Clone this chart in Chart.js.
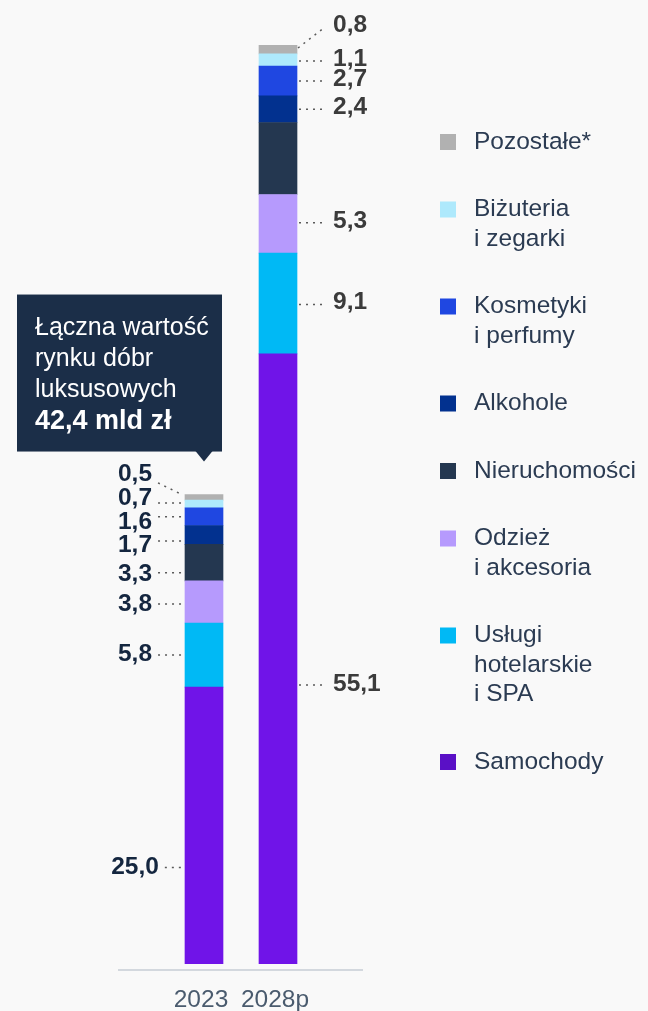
<!DOCTYPE html>
<html lang="pl">
<head>
<meta charset="utf-8">
<script src="https://cdn.jsdelivr.net/npm/chart.js@4.4.1/dist/chart.umd.min.js"></script>
<style>
  html, body { margin: 0; padding: 0; background: #f9f9f9; }
  #wrap { position: relative; width: 648px; height: 1011px; }
</style>
</head>
<body>
<div id="wrap"><canvas id="wykres"></canvas></div>
<script>
// Dane: wartość rynku dóbr luksusowych (mld zł)
const kategorie = ['2023', '2028p'];
const samochody = [25.0, 55.1];
const uslugiHotelarskie = [5.8, 9.1];
const odziez = [3.8, 5.3];
const nieruchomosci = [3.3, 6.5];
const alkohole = [1.7, 2.4];
const kosmetyki = [1.6, 2.7];
const bizuteria = [0.7, 1.1];
const pozostale = [0.5, 0.8];
const maksOsi = 83;
const podpisRamki = ['Łączna wartość', 'rynku dóbr', 'luksusowych'];
const sumaRamki = '42,4 mld zł';

// Kolejność od dołu słupka
const nazwy = [
  ['Samochody'],
  ['Usługi', 'hotelarskie', 'i SPA'],
  ['Odzież', 'i akcesoria'],
  ['Nieruchomości'],
  ['Alkohole'],
  ['Kosmetyki', 'i perfumy'],
  ['Biżuteria', 'i zegarki'],
  ['Pozostałe*']
];
const serie = [samochody, uslugiHotelarskie, odziez, nieruchomosci, alkohole, kosmetyki, bizuteria, pozostale];
const kolory = ['#7014e8', '#00b9f5', '#b69afd', '#243750', '#02318f', '#1f47e1', '#aee9fc', '#b1b1b1'];
const kolorLegendySamochody = '#5a10c6';

// Ręczne przesunięcia (px): linia względem środka segmentu, tekst względem linii
const przesuniecieLinii = [
  [42, 0, 2, 10, 6, 0, -1, -14.4],
  [26, 1, -1, 0, 0, 0, 1, -21.6]
];
const przesuniecieTekstu = [
  [0, -1, 0, 1.5, 4, 6, -5, -9],
  [-1, -2, -2, 0, -2, -2, -2, -2.5]
];
const ukryte = { '1-3': true }; // Nieruchomości 2028p bez etykiety

const FONT = '"Liberation Sans", Arial, Helvetica, sans-serif';
Chart.defaults.font.family = FONT;

function formatuj(v) {
  return v.toFixed(1).replace('.', ',');
}

const dodatki = {
  id: 'dodatki',
  beforeDraw(chart) {
    const ctx = chart.ctx;
    ctx.save();
    ctx.fillStyle = '#f9f9f9';
    ctx.fillRect(0, 0, chart.width, chart.height);
    ctx.restore();
  },
  afterDatasetsDraw(chart) {
    const ctx = chart.ctx;
    const obszar = chart.chartArea;
    const osX = chart.scales.x;
    ctx.save();

    // linia osi
    ctx.strokeStyle = '#d3d8de';
    ctx.lineWidth = 2;
    ctx.beginPath();
    ctx.moveTo(obszar.left - 49, obszar.bottom + 6);
    ctx.lineTo(obszar.right + 48, obszar.bottom + 6);
    ctx.stroke();

    // podpisy lat
    ctx.fillStyle = '#4a5b6e';
    ctx.font = '24.5px ' + FONT;
    ctx.textAlign = 'center';
    ctx.textBaseline = 'alphabetic';
    kategorie.forEach((k, j) => {
      ctx.fillText(k, osX.getPixelForValue(j) - 3, obszar.bottom + 43);
    });

    // etykiety wartości z kropkowanymi liniami
    ctx.font = 'bold 24.5px ' + FONT;
    ctx.lineWidth = 1.5;
    ctx.setLineDash([2, 5]);
    ctx.strokeStyle = '#5a5a5a';
    serie.forEach((dane, i) => {
      const meta = chart.getDatasetMeta(i);
      dane.forEach((v, j) => {
        if (ukryte[j + '-' + i]) return;
        const el = meta.data[j];
        const tekst = formatuj(v);
        const srodek = (el.y + el.base) / 2;
        const yl = srodek + przesuniecieLinii[j][i];
        const yt = yl + przesuniecieTekstu[j][i];
        const ukos = i === serie.length - 1;
        ctx.beginPath();
        if (j === 0) {
          const krawedz = el.x - el.width / 2;
          const xt = krawedz - 50;
          const prawa = xt + ctx.measureText(tekst).width / 2;
          if (ukos) {
            ctx.moveTo(prawa + 6, yl);
            ctx.lineTo(krawedz - 2, el.y + 0.5);
          } else {
            ctx.moveTo(prawa + 6, yl);
            ctx.lineTo(krawedz - 1, yl);
          }
          ctx.stroke();
          ctx.fillStyle = '#14263f';
          ctx.textAlign = 'center';
          ctx.textBaseline = 'middle';
          ctx.fillText(tekst, xt, yt);
        } else {
          const krawedz = el.x + el.width / 2;
          const xt = krawedz + 36;
          if (ukos) {
            ctx.moveTo(krawedz + 1, el.y + 3);
            ctx.lineTo(xt - 9, yl);
          } else {
            ctx.moveTo(krawedz + 2, yl);
            ctx.lineTo(xt - 8, yl);
          }
          ctx.stroke();
          ctx.fillStyle = '#3b3b3b';
          ctx.textAlign = 'left';
          ctx.textBaseline = 'middle';
          ctx.fillText(tekst, xt, yt);
        }
      });
    });
    ctx.setLineDash([]);

    // ramka z sumą nad słupkiem 2023
    const gora = chart.getDatasetMeta(serie.length - 1).data[0];
    const xTip = gora.x;
    const yTip = gora.y - 33;
    const rx = 17, rw = 205, rh = 157;
    const ry = yTip - 10 - rh;
    ctx.fillStyle = '#1b2e48';
    ctx.fillRect(rx, ry, rw, rh);
    ctx.beginPath();
    ctx.moveTo(xTip - 9, ry + rh - 1);
    ctx.lineTo(xTip + 9, ry + rh - 1);
    ctx.lineTo(xTip, yTip);
    ctx.closePath();
    ctx.fill();
    ctx.fillStyle = '#ffffff';
    ctx.textAlign = 'left';
    ctx.textBaseline = 'alphabetic';
    ctx.font = '25px ' + FONT;
    podpisRamki.forEach((t, n) => {
      ctx.fillText(t, rx + 18, ry + 40 + n * 31);
    });
    ctx.font = 'bold 27px ' + FONT;
    ctx.fillText(sumaRamki, rx + 18, ry + 134);

    // legenda (od góry: ostatnia seria)
    ctx.font = '24.5px ' + FONT;
    ctx.textBaseline = 'middle';
    let y = 142;
    for (let i = serie.length - 1; i >= 0; i--) {
      ctx.fillStyle = i === 0 ? kolorLegendySamochody : kolory[i];
      ctx.fillRect(440, y - 8, 16, 16);
      ctx.fillStyle = '#2b3b52';
      nazwy[i].forEach((linia, n) => {
        ctx.fillText(linia, 474, y + n * 29.5);
      });
      y += (nazwy[i].length - 1) * 29.5 + 67.5;
    }
    ctx.restore();
  }
};

new Chart(document.getElementById('wykres'), {
  type: 'bar',
  data: {
    labels: kategorie,
    datasets: serie.map((dane, i) => ({
      label: nazwy[i].join(' '),
      data: dane,
      backgroundColor: kolory[i],
      borderWidth: 0,
      barThickness: 38
    }))
  },
  options: {
    responsive: true,
    maintainAspectRatio: false,
    animation: false,
    layout: { padding: { left: 167, right: 333, top: 45, bottom: 47 } },
    plugins: { legend: { display: false }, tooltip: { enabled: false } },
    scales: {
      x: { stacked: true, display: false },
      y: { stacked: true, display: false, min: 0, max: maksOsi }
    }
  },
  plugins: [dodatki]
});
</script>
</body>
</html>
